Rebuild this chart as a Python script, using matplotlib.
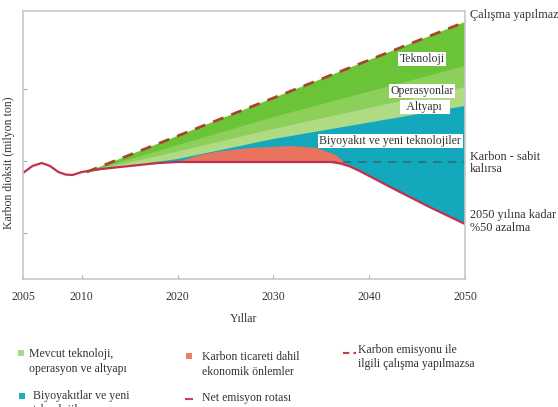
import matplotlib.pyplot as plt
import numpy as np
from matplotlib.patches import Rectangle
from matplotlib.lines import Line2D

plt.rcParams['font.family'] = 'Liberation Serif'

# values in million tons
net_years = [2005, 2005.8, 2006.6, 2007.3, 2008, 2008.6, 2009.2, 2010, 2012, 2015, 2018, 2020,
             2036, 2037, 2038, 2039, 2040, 2043, 2046.5, 2050]
net_vals = [212, 226, 232, 226, 214, 209, 208, 214, 220, 226, 232, 234,
            234, 231, 225, 216, 206, 176, 142, 110]

top_years = [2010.5, 2050]
top_vals = [214, 514]

tek_years = [2010.5, 2030, 2050]
tek_vals = [214, 324, 426]
op_years = [2010.5, 2020, 2030, 2050]
op_vals = [214, 255, 300, 384]
alt_years = [2010.5, 2020, 2030, 2050]
alt_vals = [214, 240, 280, 346]

trade_years = [2020, 2022, 2024, 2027.5, 2032, 2034.5, 2036.5, 2038]
trade_vals = [234, 246, 254, 262, 266, 262, 248, 225]

flat_years = [2020, 2050]
flat_vals = [234, 234]

xticks = [2005, 2010, 2020, 2030, 2040, 2050]

band_labels = ["Teknoloji", "Operasyonlar", "  Altyapı  ", "Biyoyakıt ve yeni teknolojiler"]
band_label_pos = [(2045.5, 440), (2045.5, 376), (2045.8, 344), (2042.2, 276)]

right_labels = ["Çalışma yapılmazsa", "Karbon - sabit\nkalırsa", "2050 yılına kadar\n%50 azalma"]
right_label_y = [528, 232, 115]

legend_labels = ["Mevcut teknoloji,\noperasyon ve altyapı",
                 "Biyoyakıtlar ve yeni\nteknolojiler",
                 "Karbon ticareti dahil\nekonomik önlemler",
                 "Net emisyon rotası",
                 "Karbon emisyonu ile\nilgili çalışma yapılmazsa"]

c_tek = '#6bc437'
c_op = '#8ccf5a'
c_alt = '#b0db85'
c_teal = '#14a8bd'
c_trade = '#e9735f'
c_net = '#c2304e'
c_top = '#a8452d'
c_flat = '#2b6f7c'
txt = '#333333'


def fwd(x):
    x = np.asarray(x, dtype=float)
    return np.where(x < 2010, 2010 + (x - 2010) * 1.229, x)


def inv(x):
    x = np.asarray(x, dtype=float)
    return np.where(x < 2010, 2010 + (x - 2010) / 1.229, x)


def band(ax, xs, ys, color):
    # upper edge from the series, lower edge along the net route
    nx = np.array(net_years)
    nv = np.array(net_vals)
    m = (nx >= xs[0] - 0.5) & (nx <= xs[-1])
    ax.fill(np.r_[xs, nx[m][::-1]], np.r_[ys, nv[m][::-1]], color=color, lw=0)


fig = plt.figure(figsize=(5.58, 4.07), dpi=100)
ax = fig.add_axes([23 / 558, 1 - 279 / 407, 442 / 558, 268 / 407])
ax.set_xscale('function', functions=(fwd, inv))

band(ax, top_years, top_vals, c_tek)
band(ax, tek_years, tek_vals, c_op)
band(ax, op_years, op_vals, c_alt)
band(ax, alt_years, alt_vals, c_teal)
band(ax, trade_years, trade_vals, c_trade)

ax.plot(flat_years, flat_vals, color=c_flat, lw=1.2, dashes=(5, 4))
ax.plot(net_years, net_vals, color=c_net, lw=1.6)
ax.plot(top_years, top_vals, color=c_top, lw=2, dashes=(4, 3))

for s, (x, y) in zip(band_labels, band_label_pos):
    ax.text(x, y, s, ha='center', va='center', fontsize=8.5, color=txt,
            bbox=dict(facecolor='white', edgecolor='none', pad=1))

ytr = ax.get_yaxis_transform()
for s, y in zip(right_labels, right_label_y):
    ax.text(1.011, y, s, transform=ytr, ha='left', va='center', fontsize=8.8,
            color=txt, linespacing=1.1, clip_on=False)

ax.set_xlim(2005, 2050)
ax.set_ylim(0, 536)
ax.set_xticks(xticks)
ax.set_xticklabels([str(t) for t in xticks])
ax.set_yticks([92, 236, 380])
ax.set_yticklabels([])
ax.tick_params(axis='x', direction='in', length=3, pad=9, labelsize=8.5,
               color='#b0b0b0', labelcolor=txt)
ax.tick_params(axis='y', direction='in', length=3, color='#b0b0b0')
for sp in ax.spines.values():
    sp.set_color('#c8c8c8')
    sp.set_linewidth(1.2)

ax.set_xlabel("Yıllar", fontsize=8.5, color=txt, labelpad=7)
ax.set_ylabel("Karbon dioksit (milyon ton)", fontsize=8.5, color=txt)
ax.yaxis.set_label_coords(-0.018, 0.433)

# legend, drawn by hand in figure pixels
W, H = 558, 407
sq = [(21, 353, '#a8d98a'), (22, 396, '#1bb0c0'), (189, 356, '#e8806a')]
for x, y, c in sq:
    fig.add_artist(Rectangle(((x - 3) / W, 1 - (y + 3) / H), 6 / W, 6 / H,
                             transform=fig.transFigure, color=c, lw=0))
fig.add_artist(Line2D([186 / W, 192 / W], [1 - 399 / H] * 2, transform=fig.transFigure,
                      color='#d04060', lw=1.5))
fig.add_artist(Line2D([343 / W, 356 / W], [1 - 353 / H] * 2, transform=fig.transFigure,
                      color='#c04040', lw=1.5, dashes=(3, 2)))

leg_pos = [(29, 355), (33, 396), (202, 358), (202, 399), (358, 350)]
for s, (x, y) in zip(legend_labels, leg_pos):
    fig.text(x / W, 1 - (y - 6.5) / H, s, ha='left', va='top', fontsize=8.5,
             color=txt, linespacing=1.25)

fig.savefig('out.png', dpi=100)
